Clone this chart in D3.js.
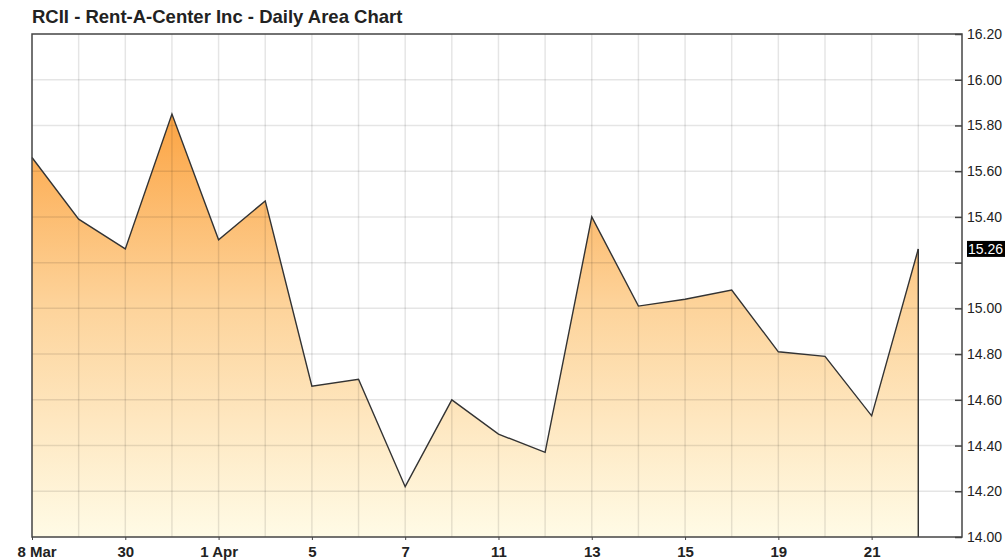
<!DOCTYPE html>
<html>
<head>
<meta charset="utf-8">
<script src="https://cdn.jsdelivr.net/npm/d3@7"></script>
<style>
  body { margin: 0; background: #fff; }
  svg { display: block; font-family: "Liberation Sans", Arial, sans-serif; }
</style>
</head>
<body>
<div id="chart"></div>
<script>
// daily closes, RCII
var dates = ["28 Mar","29 Mar","30 Mar","31 Mar","1 Apr","4 Apr","5 Apr","6 Apr","7 Apr","8 Apr",
             "11 Apr","12 Apr","13 Apr","14 Apr","15 Apr","18 Apr","19 Apr","20 Apr","21 Apr","22 Apr"];
var closes = [15.66, 15.39, 15.26, 15.85, 15.30, 15.47, 14.66, 14.69, 14.22, 14.60,
              14.45, 14.37, 15.40, 15.01, 15.04, 15.08, 14.81, 14.79, 14.53, 15.26];
var xTickIdx = [0, 2, 4, 6, 8, 10, 12, 14, 16, 18];
var xTickLabels = ["8 Mar","30","1 Apr","5","7","11","13","15","19","21"];
var yTicks = [14.0, 14.2, 14.4, 14.6, 14.8, 15.0, 15.2, 15.4, 15.6, 15.8, 16.0, 16.2];
var lastValue = 15.26;

function drawChart() {
    var W = 1005, H = 560;
    var mLeft = 32, mRight = 962, mTop = 34, mBottom = 537;

    var svg = d3.select("#chart").append("svg")
        .attr("width", W)
        .attr("height", H);

    var x = d3.scaleLinear().domain([0, dates.length - 1]).range([mLeft, 918.3]);
    var y = d3.scaleLinear().domain([14.0, 16.2]).range([mBottom, mTop]);

    // gradient fill
    var defs = svg.append("defs");
    var grad = defs.append("linearGradient")
        .attr("id", "fillGrad")
        .attr("x1", 0).attr("y1", 0).attr("x2", 0).attr("y2", 1);
    grad.append("stop").attr("offset", "0%").attr("stop-color", "#fca443");
    grad.append("stop").attr("offset", "45%").attr("stop-color", "#fdd39a");
    grad.append("stop").attr("offset", "100%").attr("stop-color", "#fffbe6");

    // title
    svg.append("text")
        .attr("x", 32)
        .attr("y", 23)
        .attr("font-size", "18.5px")
        .attr("font-weight", "bold")
        .attr("fill", "#222")
        .text("RCII - Rent-A-Center Inc - Daily Area Chart");

    // area
    var area = d3.area()
        .x(function(d, i) { return x(i); })
        .y0(mBottom)
        .y1(function(d) { return y(d); });

    svg.append("path")
        .datum(closes)
        .attr("d", area)
        .attr("fill", "url(#fillGrad)");

    // grid (drawn over the fill, semi transparent)
    var grid = svg.append("g").attr("stroke", "rgba(0,0,0,0.1)").attr("stroke-width", 1.5);
    grid.selectAll("line.v")
        .data(d3.range(1, dates.length))
        .enter().append("line")
        .attr("class", "v")
        .attr("x1", function(i) { return x(i); })
        .attr("x2", function(i) { return x(i); })
        .attr("y1", mTop)
        .attr("y2", mBottom);
    grid.selectAll("line.h")
        .data(yTicks.slice(1, -1))
        .enter().append("line")
        .attr("class", "h")
        .attr("x1", mLeft)
        .attr("x2", mRight)
        .attr("y1", function(d) { return y(d); })
        .attr("y2", function(d) { return y(d); });

    // price line on top of grid
    var line = d3.line()
        .x(function(d, i) { return x(i); })
        .y(function(d) { return y(d); });
    svg.append("path")
        .datum(closes)
        .attr("d", line)
        .attr("fill", "none")
        .attr("stroke", "#333")
        .attr("stroke-width", 1.4);
    svg.append("line")
        .attr("x1", x(closes.length - 1)).attr("x2", x(closes.length - 1))
        .attr("y1", y(closes[closes.length - 1])).attr("y2", mBottom)
        .attr("stroke", "#333").attr("stroke-width", 1.4);

    // frame
    svg.append("rect")
        .attr("x", mLeft).attr("y", mTop)
        .attr("width", mRight - mLeft).attr("height", mBottom - mTop)
        .attr("fill", "none")
        .attr("stroke", "#444")
        .attr("stroke-width", 1.5);

    // right axis
    var yAxis = d3.axisRight(y)
        .tickValues(yTicks)
        .tickSize(-7)
        .tickPadding(5)
        .tickFormat(function(d) { return Math.abs(d - 15.2) < 1e-6 ? "" : d.toFixed(2); });
    var ya = svg.append("g")
        .attr("transform", "translate(" + mRight + ",0)")
        .call(yAxis);
    ya.select(".domain").remove();
    ya.selectAll(".tick line").attr("stroke", "#444").attr("stroke-width", 1.5);
    ya.selectAll(".tick text")
        .attr("font-size", "14px")
        .attr("font-family", "'Liberation Sans', Arial, sans-serif")
        .attr("fill", "#222");

    // current value label
    var lv = svg.append("g").attr("transform", "translate(967," + y(lastValue) + ")");
    lv.append("rect").attr("x", 0).attr("y", -8).attr("width", 38).attr("height", 16).attr("fill", "#000");
    lv.append("text")
        .attr("x", 1).attr("y", 5)
        .attr("font-size", "14px")
        .attr("fill", "#fff")
        .text(lastValue.toFixed(2));

    // bottom axis
    var xAxis = d3.axisBottom(x)
        .tickValues(xTickIdx)
        .tickSize(3)
        .tickPadding(6)
        .tickFormat(function(d, i) { return xTickLabels[i]; });
    var xa = svg.append("g")
        .attr("transform", "translate(0," + mBottom + ")")
        .call(xAxis);
    xa.select(".domain").remove();
    xa.selectAll(".tick line").attr("stroke", "#444");
    xa.selectAll(".tick text")
        .attr("font-size", "15px")
        .attr("font-weight", "bold")
        .attr("font-family", "'Liberation Sans', Arial, sans-serif")
        .attr("fill", "#222");
    xa.selectAll(".tick text").filter(function(d) { return d === 0; })
        .attr("text-anchor", "start")
        .attr("dx", "-15px");
}

drawChart();
</script>
</body>
</html>
